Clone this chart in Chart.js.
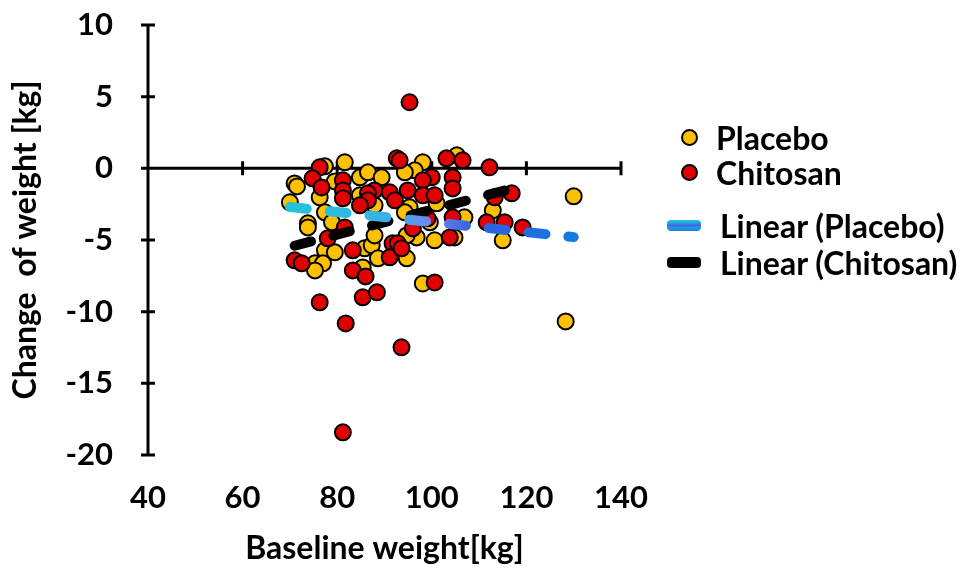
<!DOCTYPE html>
<html>
<head>
<meta charset="utf-8">
<script src="https://cdn.jsdelivr.net/npm/chart.js@4.4.1/dist/chart.umd.min.js"></script>
<style>
  html, body { margin: 0; padding: 0; background: #fff; }
  #wrap { position: relative; width: 964px; height: 568px; }
  #legend { position: absolute; left: 0; top: 0; font-family: Lato, "Open Sans", sans-serif; font-weight: bold; font-size: 32px; color: #000; }
  .item { position: absolute; white-space: nowrap; display: flex; align-items: center; height: 38px; }
  .dot { width: 13px; height: 13px; border-radius: 50%; border: 2.5px solid #000; margin-right: 18px; }
  .bar { width: 34px; height: 11px; border-radius: 4px; margin-right: 19px; }
</style>
</head>
<body>
<div id="wrap">
  <canvas id="chart" width="964" height="568"></canvas>
  <div id="legend"></div>
</div>
<script>
// axis ranges / ticks
const xMin = 40, xMax = 140, xStep = 20;
const yMin = -20, yMax = 10, yStep = 5;

// Placebo: baseline weight [kg], change of weight [kg]
const placeboX = [77.4, 81.6, 71.0, 76.3, 79.5, 84.8, 86.5, 89.4, 84.8, 87.9, 70.0, 77.4, 73.8, 78.9,
  98.1, 96.4, 94.3, 105.3, 101.0, 95.3, 94.3, 112.9, 106.9, 130.0, 115.0, 73.8, 77.4, 79.5, 85.8,
  87.3, 87.9, 75.3, 77.0, 75.3, 88.6, 85.4, 96.8, 94.7, 94.7, 100.6, 104.8, 98.1, 128.3, 71.5, 99.6];
const placeboY = [0.14, 0.42, -1.05, -2.02, -0.91, -0.63, -0.28, -0.63, -1.88, -2.58, -2.37, -3.07, -3.84, -3.77,
  0.42, -0.14, -0.28, 0.91, -2.44, -2.72, -3.07, -2.93, -3.42, -1.95, -5.02, -4.12, -5.72, -5.86, -5.58,
  -5.37, -4.68, -6.63, -6.63, -7.12, -6.28, -6.91, -4.82, -4.68, -6.28, -5.02, -4.82, -8.03, -10.68, -1.26, -3.77];

// Chitosan
const chitosanX = [76.3, 74.8, 76.7, 81.2, 81.2, 81.2, 87.9, 86.5, 86.5, 84.8, 91.1, 92.2, 81.6, 92.6,
  93.2, 103.1, 106.5, 112.2, 100.0, 98.1, 104.4, 104.4, 94.9, 98.1, 100.6, 116.9, 113.3, 104.4, 99.1,
  111.6, 115.4, 119.2, 95.3, 78.0, 83.3, 71.0, 72.5, 91.7, 91.1, 83.3, 86.0, 76.3, 85.4, 88.4, 96.0,
  92.8, 93.6, 103.8, 100.6, 81.8, 93.6, 81.2];
const chitosanY = [0.07, -0.70, -1.33, -0.84, -1.54, -2.09, -1.54, -1.74, -2.23, -2.58, -1.67, -2.23, -4.12, 0.70,
  0.56, 0.70, 0.56, 0.07, -0.63, -0.84, -0.63, -1.40, -1.54, -1.88, -1.88, -1.74, -2.02, -3.42, -3.49,
  -3.77, -3.77, -4.12, 4.61, -4.88, -5.72, -6.42, -6.63, -5.23, -6.21, -7.12, -7.54, -9.35, -9.00, -8.65, -4.19,
  -5.23, -5.58, -4.82, -7.96, -10.82, -12.49, -18.42];

// linear trend lines (end points)
const placeboTrendX = [70, 130];
const placeboTrendY = [-2.7, -4.8];
const chitosanTrendX = [71, 116];
const chitosanTrendY = [-5.4, -1.5];

const toPoints = (xs, ys) => xs.map((x, i) => ({ x: x, y: ys[i] }));

function placeboGradient(context) {
    const chart = context.chart;
    const area = chart.chartArea;
    if (!area) return '#1fa8e0';
    const xs = chart.scales.x;
    const g = chart.ctx.createLinearGradient(xs.getPixelForValue(placeboTrendX[0]), 0, xs.getPixelForValue(placeboTrendX[1]), 0);
    g.addColorStop(0, '#22c4da');
    g.addColorStop(0.35, '#3ab0e6');
    g.addColorStop(0.5, '#6f86ee');
    g.addColorStop(0.65, '#2f5fe0');
    g.addColorStop(1, '#1479e2');
    return g;
}

// axis lines crossing at 0, with tick marks on both sides
const axisLines = {
    id: 'axisLines',
    beforeDatasetsDraw(chart) {
        const ctx = chart.ctx;
        const x = chart.scales.x, y = chart.scales.y;
        const x0 = x.getPixelForValue(xMin);
        const y0 = y.getPixelForValue(0);
        ctx.save();
        ctx.strokeStyle = '#000';
        ctx.lineWidth = 3;
        ctx.beginPath();
        ctx.moveTo(x0, y.getPixelForValue(yMax));
        ctx.lineTo(x0, y.getPixelForValue(yMin));
        ctx.moveTo(x0, y0);
        ctx.lineTo(x.getPixelForValue(xMax), y0);
        y.ticks.forEach(t => {
            const p = y.getPixelForValue(t.value);
            ctx.moveTo(x0 - 7, p);
            ctx.lineTo(x0 + 7, p);
        });
        x.ticks.forEach(t => {
            if (t.value === xMin) return;
            const p = x.getPixelForValue(t.value);
            ctx.moveTo(p, y0 - 7);
            ctx.lineTo(p, y0 + 7);
        });
        ctx.stroke();
        ctx.restore();
    }
};

const tickFont = { family: 'Lato', weight: 'bold', size: 31 };
const titleFont = { family: 'Lato', weight: 'bold', size: 32 };

const datasets = [
    {
        type: 'line', label: 'Linear (Placebo)', data: toPoints(placeboTrendX, placeboTrendY),
        borderColor: placeboGradient, borderWidth: 10, borderDash: [17, 23], borderCapStyle: 'round',
        pointRadius: 0, fill: false, order: 0
    },
    {
        type: 'line', label: 'Linear (Chitosan)', data: toPoints(chitosanTrendX, chitosanTrendY),
        borderColor: '#000', borderWidth: 10, borderDash: [17, 23], borderCapStyle: 'round',
        pointRadius: 0, fill: false, order: 0
    },
    {
        label: 'Chitosan', data: toPoints(chitosanX, chitosanY),
        backgroundColor: '#e00000', borderColor: '#000', borderWidth: 2, pointRadius: 8, order: 1
    },
    {
        label: 'Placebo', data: toPoints(placeboX, placeboY),
        backgroundColor: '#ffc000', borderColor: '#000', borderWidth: 2, pointRadius: 8, order: 2
    }
];

const chart = new Chart(document.getElementById('chart').getContext('2d'), {
    type: 'scatter',
    data: { datasets: datasets },
    options: {
        responsive: false,
        animation: false,
        layout: { padding: { left: 0, top: 25, right: 343, bottom: 0 } },
        plugins: { legend: { display: false }, tooltip: { enabled: false } },
        scales: {
            x: {
                type: 'linear', min: xMin, max: xMax,
                grid: { display: false, drawTicks: false },
                border: { display: false },
                ticks: { stepSize: xStep, color: '#000', font: tickFont, padding: 24 },
                title: { display: true, text: 'Baseline weight[kg]', color: '#000', font: titleFont, padding: { top: 0, bottom: 0 } },
                afterFit: s => { s.height = 113; }
            },
            y: {
                type: 'linear', min: yMin, max: yMax,
                grid: { display: false, drawTicks: false },
                border: { display: false },
                ticks: { stepSize: yStep, color: '#000', font: tickFont, padding: 35 },
                title: { display: true, text: 'Change  of weight [kg]', color: '#000', font: titleFont, padding: { top: 6, bottom: 0 } },
                afterFit: s => { s.width = 148; s.paddingTop = 0; s.paddingBottom = 0; }
            }
        }
    },
    plugins: [axisLines]
});

// legend on the right
const legendItems = [
    { label: 'Placebo', kind: 'dot', color: '#ffc000', top: 118 },
    { label: 'Chitosan', kind: 'dot', color: '#e00000', top: 153 },
    { label: 'Linear (Placebo)', kind: 'bar', color: 'linear-gradient(#2ac8dc 0%, #1d9fe2 30%, #4a62e0 50%, #1d9fe2 70%, #1a7fe0 100%)', top: 206 },
    { label: 'Linear (Chitosan)', kind: 'bar', color: '#000', top: 243 }
];
const legend = document.getElementById('legend');
legendItems.forEach(it => {
    const row = document.createElement('div');
    row.className = 'item';
    row.style.top = it.top + 'px';
    row.style.left = it.kind === 'dot' ? '681px' : '667px';
    const mark = document.createElement('span');
    mark.className = it.kind;
    mark.style.background = it.color;
    row.appendChild(mark);
    row.appendChild(document.createTextNode(it.label));
    legend.appendChild(row);
});
</script>
</body>
</html>
